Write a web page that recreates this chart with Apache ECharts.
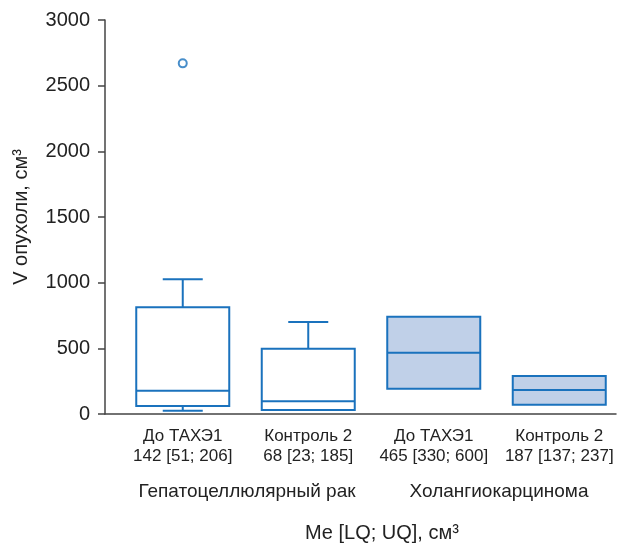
<!DOCTYPE html>
<html>
<head>
<meta charset="utf-8">
<script src="https://cdn.jsdelivr.net/npm/echarts@6/dist/echarts.min.js"></script>
<style>
html,body{margin:0;padding:0;background:#fff;}
#chart{width:622px;height:546px;}
</style>
</head>
<body>
<div id="chart"></div>
<script>
// ---- data ----
const categories = ['До ТАХЭ1', 'Контроль 2', 'До ТАХЭ1', 'Контроль 2'];
const statLabels = ['142 [51; 206]', '68 [23; 185]', '465 [330; 600]', '187 [137; 237]'];
const groupOf = [0, 0, 1, 1];
const groupNames = ['Гепатоцеллюлярный рак', 'Холангиокарцинома'];
const mins = [25, 30, 193, 71];
const q1s = [61, 30, 193, 71];
const medians = [177, 97, 467, 183];
const q3s = [813, 497, 741, 289];
const maxs = [1026, 701, 741, 289];
const outliers = [[0, 2670]];
const yTicks = { min: 0, max: 3000, interval: 500 };

const BLUE = '#1a72bd';
const FILLS = ['#ffffff', '#c0d0e8'];
const FONT = '"Liberation Sans", Arial, Helvetica, sans-serif';

const boxData = categories.map((c, i) => [i, mins[i], q1s[i], medians[i], q3s[i], maxs[i], groupOf[i]]);

const chart = echarts.init(document.getElementById('chart'));
chart.setOption({
  animation: false,
  backgroundColor: '#fff',
  grid: [
    { left: 105, top: 20, width: 511, height: 394 },
    { left: 120, top: 20, width: 504, height: 394 }
  ],
  xAxis: [
    { type: 'value', gridIndex: 0, min: 0, max: 1,
      axisLine: { show: true, lineStyle: { color: '#444', width: 1.5 } },
      axisTick: { show: false }, axisLabel: { show: false }, splitLine: { show: false } },
    { type: 'category', gridIndex: 1, data: categories,
      axisLine: { show: false }, axisTick: { show: false }, splitLine: { show: false },
      axisLabel: {
        interval: 0, hideOverlap: false,
        margin: 12, fontSize: 17, lineHeight: 20.5, color: '#222', fontFamily: FONT,
        formatter: (v, i) => v + '\n' + statLabels[i]
      } }
  ],
  yAxis: [
    { type: 'value', gridIndex: 0, min: yTicks.min, max: yTicks.max, interval: yTicks.interval,
      name: 'V опухоли, см³', nameLocation: 'middle', nameGap: 74,
      nameTextStyle: { fontSize: 20, color: '#222', fontFamily: FONT },
      axisLine: { show: true, lineStyle: { color: '#444', width: 1.5 } },
      axisTick: { show: true, length: 7, lineStyle: { color: '#444', width: 1.5 } },
      axisLabel: { fontSize: 20, color: '#222', margin: 15, fontFamily: FONT, formatter: v => String(v) },
      splitLine: { show: false } },
    { type: 'value', gridIndex: 1, min: yTicks.min, max: yTicks.max, show: false, splitLine: { show: false } }
  ],
  series: [
    {
      type: 'custom', xAxisIndex: 1, yAxisIndex: 1,
      data: boxData,
      encode: { x: 0, y: [1, 2, 3, 4, 5] },
      renderItem: function (params, api) {
        const i = api.value(0);
        const pMin = api.coord([i, api.value(1)]);
        const pQ1 = api.coord([i, api.value(2)]);
        const pMed = api.coord([i, api.value(3)]);
        const pQ3 = api.coord([i, api.value(4)]);
        const pMax = api.coord([i, api.value(5)]);
        const g = api.value(6);
        const cx = pMed[0];
        const hw = 46.5, cw = 20;
        const line = { stroke: BLUE, lineWidth: 2 };
        const children = [];
        if (pMax[1] < pQ3[1] - 0.5) {
          children.push({ type: 'line', shape: { x1: cx, y1: pQ3[1], x2: cx, y2: pMax[1] }, style: line });
          children.push({ type: 'line', shape: { x1: cx - cw, y1: pMax[1], x2: cx + cw, y2: pMax[1] }, style: line });
        }
        if (pMin[1] > pQ1[1] + 0.5) {
          children.push({ type: 'line', shape: { x1: cx, y1: pQ1[1], x2: cx, y2: pMin[1] }, style: line });
          children.push({ type: 'line', shape: { x1: cx - cw, y1: pMin[1], x2: cx + cw, y2: pMin[1] }, style: line });
        }
        children.push({ type: 'rect', shape: { x: cx - hw, y: pQ3[1], width: hw * 2, height: pQ1[1] - pQ3[1] },
          style: { fill: FILLS[g], stroke: BLUE, lineWidth: 2 } });
        children.push({ type: 'line', shape: { x1: cx - hw, y1: pMed[1], x2: cx + hw, y2: pMed[1] }, style: line });
        return { type: 'group', children: children };
      }
    },
    {
      type: 'scatter', xAxisIndex: 1, yAxisIndex: 1,
      data: outliers, symbol: 'circle', symbolSize: 8,
      itemStyle: { color: '#fff', borderColor: BLUE, borderWidth: 2 }
    }
  ],
  graphic: [
    { type: 'text', x: 247, y: 492, style: { text: groupNames[0], fontSize: 19, fill: '#222', fontFamily: FONT, align: 'center', verticalAlign: 'middle' } },
    { type: 'text', x: 499, y: 492, style: { text: groupNames[1], fontSize: 19, fill: '#222', fontFamily: FONT, align: 'center', verticalAlign: 'middle' } },
    { type: 'text', x: 382, y: 533, style: { text: 'Me [LQ; UQ], см³', fontSize: 20, fill: '#222', fontFamily: FONT, align: 'center', verticalAlign: 'middle' } }
  ]
});
</script>
</body>
</html>
